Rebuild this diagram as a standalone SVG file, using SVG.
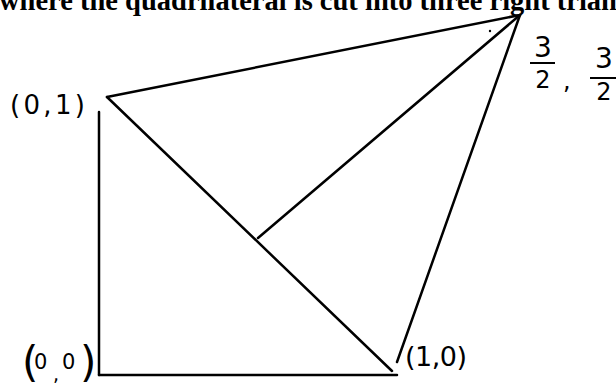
<svg xmlns="http://www.w3.org/2000/svg" width="616" height="390" viewBox="0 0 616 390">
  <style>
    .title { font-family: "Liberation Serif", "Times New Roman", serif; font-weight: bold; font-size: 28.5px; fill: #000; }
    .hand { font-family: "DejaVu Sans", "Liberation Sans", sans-serif; fill: #000; }
    .edge { stroke: #000; stroke-width: 2.5; fill: none; stroke-linecap: round; }
    .bar { stroke: #000; stroke-width: 2; fill: none; }
  </style>
  <rect width="616" height="390" fill="#fff"/>
  <text class="title" x="-1" y="10">where the quadrilateral is cut into three right triangles</text>

  <g id="connectors">
    <line class="edge" x1="107" y1="97" x2="520" y2="15"/>
    <line class="edge" x1="99" y1="112" x2="99" y2="375"/>
    <line class="edge" x1="99" y1="375" x2="397" y2="375" stroke-width="2"/>
    <line class="edge" x1="107" y1="97" x2="392" y2="371"/>
    <line class="edge" x1="397" y1="362" x2="520" y2="15"/>
    <line class="edge" x1="258" y1="238" x2="520" y2="15"/>
    <circle cx="490" cy="31" r="1.2" fill="#000"/>
  </g>

  <g id="node-01">
    <text class="hand" x="10" y="114" font-size="26" textLength="75" lengthAdjust="spacing">(0,1)</text>
  </g>

  <g id="node-00">
    <text class="hand"><tspan x="22" y="377" font-size="42">(</tspan><tspan x="34" y="369" font-size="21">0</tspan><tspan x="53" y="381" font-size="19">,</tspan><tspan x="62" y="369" font-size="21">0</tspan><tspan x="80" y="377" font-size="42">)</tspan></text>
  </g>

  <g id="node-10">
    <text class="hand" x="405" y="366" font-size="27" textLength="62" lengthAdjust="spacing">(1,0)</text>
  </g>

  <g id="node-top">
    <text class="hand" x="543" y="57" font-size="28" text-anchor="middle">3</text>
    <line class="bar" x1="530" y1="63" x2="555" y2="63"/>
    <text class="hand" x="543" y="88" font-size="24" text-anchor="middle">2</text>
    <text class="hand" x="563" y="89" font-size="24">,</text>
    <text class="hand" x="604" y="68" font-size="28" text-anchor="middle">3</text>
    <line class="bar" x1="590" y1="78" x2="616" y2="78"/>
    <text class="hand" x="604" y="100" font-size="24" text-anchor="middle">2</text>
  </g>
</svg>
